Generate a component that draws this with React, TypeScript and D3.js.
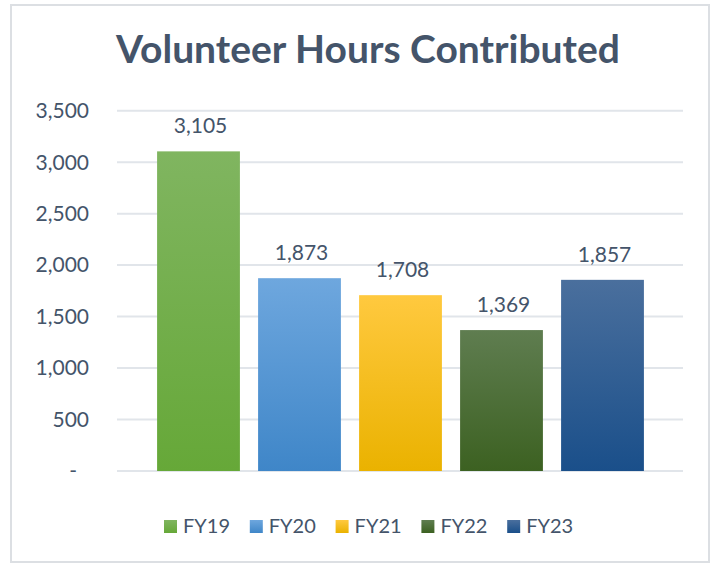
import React from 'react';
import * as d3 from 'd3';

const years = ['FY19', 'FY20', 'FY21', 'FY22', 'FY23'];
const hours = [3105, 1873, 1708, 1369, 1857];
const yTicks = [0, 500, 1000, 1500, 2000, 2500, 3000, 3500];
// top / bottom colours of each bar's gradient
const topColors = ['#80b560', '#6ea7de', '#ffc93f', '#5f7d50', '#4a6f9d'];
const bottomColors = ['#66a838', '#3f86c8', '#eab200', '#3c6121', '#1a4f8a'];

const W = 713;
const H = 565;
const textColor = '#44546a';
const font = 'Lato, "Open Sans", sans-serif';

export default function App() {
  const y = d3.scaleLinear().domain([0, 3500]).range([471, 110.7]);
  const x = d3.scaleBand<string>()
    .domain(years)
    .range([148, 653])
    .paddingInner(0.18)
    .paddingOuter(0.09);
  const fmt = d3.format(',');

  return (
    <svg
      width={W}
      height={H}
      style={{ position: 'absolute', left: 0, top: 0, background: '#fff' }}
      fontFamily={font}
    >
      <defs>
        {years.map((yr, i) => (
          <linearGradient key={yr} id={`grad-${yr}`} x1="0" y1="0" x2="0" y2="1">
            <stop offset="0%" stopColor={topColors[i]} />
            <stop offset="100%" stopColor={bottomColors[i]} />
          </linearGradient>
        ))}
      </defs>

      {/* chart frame */}
      <rect x={11} y={5} width={698} height={557} fill="#fff" stroke="#dcdfe3" strokeWidth={2} />

      {/* title */}
      <text x={368} y={63} textAnchor="middle" fontSize={39} fontWeight="bold" fill={textColor}>
        Volunteer Hours Contributed
      </text>

      {/* gridlines + y labels */}
      {yTicks.map(t => (
        <g key={t}>
          <line x1={117} x2={683} y1={y(t)} y2={y(t)} stroke="#e1e5ea" strokeWidth={2} />
          <text
            x={t === 0 ? 77 : 89}
            y={y(t)}
            dy="0.35em"
            textAnchor="end"
            fontSize={21}
            fill={textColor}
          >
            {t === 0 ? '-' : fmt(t)}
          </text>
        </g>
      ))}

      {/* bars */}
      {years.map((yr, i) => (
        <g key={yr}>
          <rect
            x={x(yr)}
            y={y(hours[i])}
            width={x.bandwidth()}
            height={y(0) - y(hours[i])}
            fill={`url(#grad-${yr})`}
          />
          <text
            x={x(yr)! + x.bandwidth() / 2 + 2}
            y={y(hours[i]) - 18}
            textAnchor="middle"
            fontSize={21}
            fill={textColor}
          >
            {fmt(hours[i])}
          </text>
        </g>
      ))}

      {/* legend */}
      {years.map((yr, i) => (
        <g key={yr} transform={`translate(${164 + i * 85.8},520)`}>
          <rect width={13} height={13} fill={`url(#grad-${yr})`} />
          <text x={19} y={13} fontSize={20} fill={textColor}>
            {yr}
          </text>
        </g>
      ))}
    </svg>
  );
}
